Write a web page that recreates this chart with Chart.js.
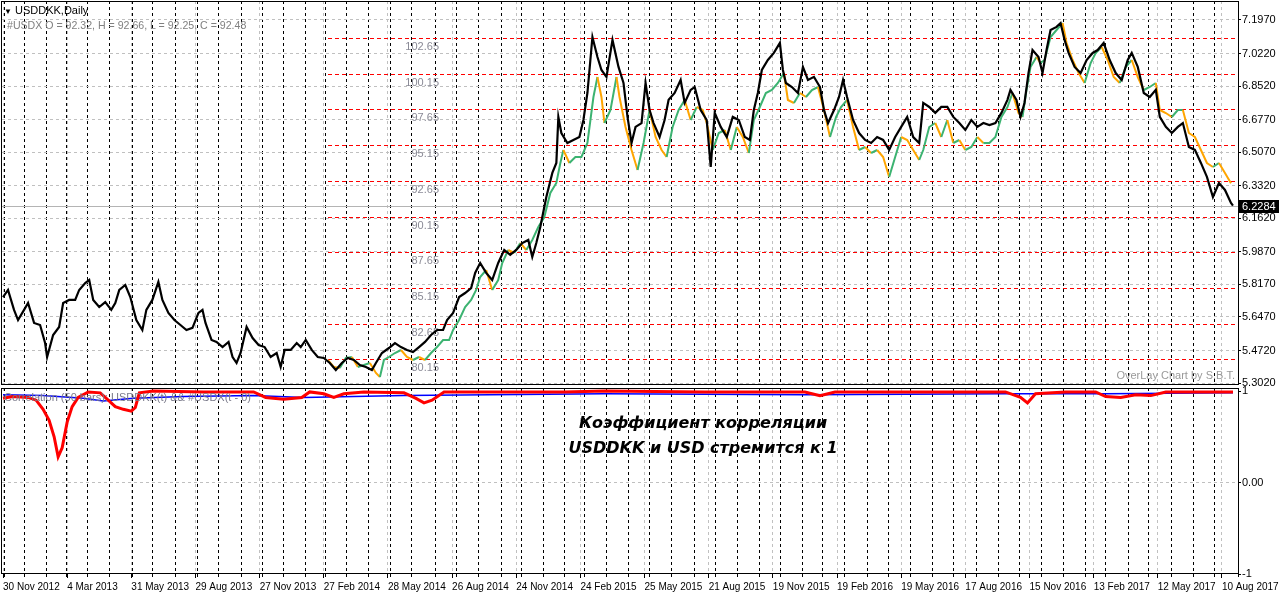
<!DOCTYPE html>
<html>
<head>
<meta charset="utf-8">
<script src="https://cdn.jsdelivr.net/npm/chart.js@4.4.0/dist/chart.umd.min.js"></script>
<style>
body{margin:0;background:#fff;width:1280px;height:600px;overflow:hidden;position:relative;font-family:"Liberation Sans",Arial,sans-serif}
canvas{position:absolute;left:0}
#main{top:0}
#sub{top:386px}
.t{position:absolute;font-size:11px;white-space:nowrap;line-height:13px}
.big{position:absolute;left:453px;width:500px;top:410px;text-align:center;font:italic bold 16px "DejaVu Sans",sans-serif;line-height:25px;color:#000}
</style>
</head>
<body>
<canvas id="main" width="1280" height="386"></canvas>
<canvas id="sub" width="1280" height="214"></canvas>
<div class="t" style="left:4px;top:4px;color:#000"><span style="font-size:8px">▼</span> USDDKK,Daily</div>
<div class="t" style="left:7px;top:19px;color:#808080;font-size:10.6px">#USDX O = 92.32, H = 92.66, L = 92.25, C = 92.48</div>
<div class="t" style="right:45px;top:369px;color:#9a9a9a">OverLay Chart by S.B.T.</div>
<div class="t" style="left:4px;top:391px;color:#7a7a8a">Correlation (50 bars): USDDKK(t) &amp;&amp; #USDX(t - 0)</div>
<div class="big">Коэффициент корреляции<br>USDDKK и USD стремится к 1</div>
<script>
// date axis
const dateLabels = ['30 Nov 2012','4 Mar 2013','31 May 2013','29 Aug 2013','27 Nov 2013','27 Feb 2014','28 May 2014','26 Aug 2014','24 Nov 2014','24 Feb 2015',
  '25 May 2015','21 Aug 2015','19 Nov 2015','19 Feb 2016','19 May 2016','17 Aug 2016','15 Nov 2016','13 Feb 2017','12 May 2017','10 Aug 2017'];
const dateBars = [0,64,128,192,256,320,384,448,512,576,640,704,768,832,896,960,1024,1088,1152,1216];

// price axis of USDDKK and overlay levels of #USDX
const priceTicks = [7.1970,7.0220,6.8520,6.6770,6.5070,6.3320,6.1620,5.9870,5.8170,5.6470,5.4720,5.3020];
const usdxLevels = [102.65,100.15,97.65,95.15,92.65,90.15,87.65,85.15,82.65,80.15];
const lastPrice = 6.2284;

// USDDKK daily close (bar number from 30 Nov 2012)
const dkkBar = [0,5,11,15,21,25,31,37,42,44,50,56,60,66,72,76,82,86,90,96,102,108,112,116,122,127,133,139,143,149,155,159,165,171,177,183,189,195,199,202,
  208,213,219,225,229,233,237,243,249,255,261,267,273,277,281,287,293,297,302,308,314,320,326,332,338,344,350,356,362,368,372,378,385,391,397,403,409,415,421,427,
  433,439,443,449,455,461,467,471,476,482,488,494,500,506,512,518,524,528,532,536,542,548,552,554,557,563,569,575,579,583,588,593,597,602,608,614,619,623,627,631,
  637,641,645,649,655,660,664,670,676,680,686,690,696,702,706,710,716,722,728,734,740,745,749,753,757,763,769,775,778,781,787,793,798,803,809,815,819,823,829,834,
  838,842,848,854,860,866,872,878,884,890,896,902,908,914,918,924,930,936,942,948,954,960,966,972,978,984,990,996,1002,1005,1011,1015,1019,1023,1027,1033,1037,1041,1045,1051,
  1055,1059,1063,1069,1075,1081,1087,1092,1098,1104,1110,1116,1122,1126,1132,1138,1144,1150,1154,1160,1166,1172,1177,1183,1189,1195,1201,1207,1213,1219,1225,1227];
const dkkClose = [5.751,5.788,5.684,5.631,5.684,5.720,5.616,5.605,5.511,5.438,5.553,5.595,5.720,5.736,5.736,5.788,5.824,5.840,5.736,5.699,5.725,5.684,5.720,5.788,5.814,5.751,5.631,5.579,5.684,5.736,5.830,5.736,5.668,5.631,5.605,5.579,5.590,5.668,5.684,5.616,
  5.527,5.517,5.490,5.517,5.438,5.407,5.459,5.595,5.537,5.501,5.490,5.438,5.459,5.386,5.475,5.475,5.511,5.490,5.527,5.475,5.438,5.433,5.407,5.370,5.407,5.433,5.423,5.396,5.386,5.370,5.407,5.459,5.485,5.511,5.490,5.475,5.464,5.490,5.517,5.553,
  5.579,5.579,5.631,5.668,5.751,5.772,5.798,5.877,5.929,5.877,5.840,5.929,5.997,5.971,5.997,6.033,6.049,5.960,6.033,6.117,6.273,6.399,6.451,6.691,6.607,6.555,6.571,6.586,6.675,6.816,7.108,7.004,6.936,6.900,7.093,6.952,6.868,6.691,6.555,6.639,
  6.659,6.868,6.727,6.659,6.586,6.675,6.780,6.816,6.884,6.764,6.832,6.847,6.727,6.675,6.430,6.712,6.639,6.586,6.691,6.675,6.586,6.571,6.727,6.816,6.936,6.988,7.025,7.077,6.936,6.868,6.847,6.816,6.952,6.884,6.900,6.847,6.727,6.659,6.727,6.795,
  6.884,6.795,6.675,6.607,6.571,6.555,6.586,6.571,6.519,6.586,6.639,6.691,6.586,6.555,6.764,6.743,6.712,6.743,6.743,6.691,6.659,6.623,6.675,6.639,6.659,6.649,6.659,6.712,6.780,6.832,6.780,6.691,6.764,6.920,7.040,7.004,6.920,7.040,7.145,7.161,
  7.181,7.093,7.025,6.952,6.920,6.988,7.025,7.040,7.077,6.988,6.920,6.884,6.988,7.025,6.952,6.816,6.795,6.832,6.691,6.639,6.607,6.639,6.659,6.534,6.519,6.451,6.378,6.273,6.346,6.310,6.242,6.2284];

// #USDX overlay close
const usdxBar = [324,330,336,342,348,354,360,366,372,376,380,385,391,397,403,409,415,421,427,433,439,445,449,455,461,467,472,476,482,488,494,498,504,510,516,522,528,534,540,546,
  552,556,559,565,571,577,583,589,593,597,600,606,612,615,621,627,633,639,645,651,657,662,668,674,680,686,692,698,702,708,714,720,726,732,738,744,749,755,761,767,
  773,779,783,789,795,801,807,813,819,825,831,836,842,848,854,860,866,872,878,884,890,896,902,908,914,918,924,930,936,942,948,954,960,966,972,978,984,990,996,1002,
  1007,1013,1017,1021,1025,1031,1035,1039,1045,1051,1057,1061,1067,1073,1079,1085,1090,1096,1102,1108,1114,1120,1126,1132,1138,1144,1150,1154,1160,1166,1172,1177,1183,1189,1195,1201,1207,1213,1219,1225];
const usdxClose = [80.11,79.62,79.55,80.25,80.32,79.62,79.76,79.90,79.20,78.92,80.11,80.32,80.60,80.81,80.32,80.11,80.32,80.11,80.60,81.02,81.51,81.51,82.21,82.91,83.82,84.31,85.01,85.92,86.41,85.01,85.71,86.90,87.81,87.60,88.30,87.81,88.51,89.42,90.12,91.80,
  92.50,93.90,94.81,93.90,94.32,94.32,95.30,98.52,99.92,98.52,96.70,97.61,99.92,98.52,96.42,94.81,93.41,95.30,97.61,95.72,94.81,94.32,96.42,97.61,98.31,96.91,97.82,97.61,96.70,94.81,96.00,96.21,94.81,96.42,95.72,94.60,96.91,97.82,98.80,99.01,
  99.50,100.20,98.31,98.10,98.80,98.52,99.01,99.22,97.61,95.72,97.12,97.82,98.31,96.42,94.81,95.02,94.60,94.81,94.32,92.92,94.32,95.72,95.51,94.81,94.11,94.81,96.42,96.70,95.72,96.91,95.30,95.51,94.81,95.02,95.72,95.30,95.30,95.72,97.12,97.82,
  98.80,97.40,97.12,99.01,100.62,101.32,100.90,101.11,102.72,103.21,103.70,102.30,101.11,100.20,99.50,100.90,101.60,102.02,101.11,99.92,99.50,100.62,101.11,99.92,99.01,99.22,99.50,97.61,97.40,97.12,97.61,97.61,96.00,95.72,94.81,93.90,93.62,93.90,93.20,92.48];

// correlation (50 bars) and its slow line
const corrBar = [0,10,25,33,40,46,51,55,59,64,69,75,85,97,105,112,120,128,132,136,150,200,250,262,280,298,306,320,330,340,360,400,412,420,428,440,500,560,600,700,800,815,830,900,1000,1015,1022,1030,1060,1090,1100,1115,1130,1145,1160,1227];
const corrVal = [0.92,0.94,0.93,0.90,0.80,0.68,0.50,0.28,0.38,0.66,0.83,0.93,0.99,0.98,0.90,0.83,0.80,0.78,0.82,0.98,1.00,0.99,0.99,0.93,0.91,0.93,0.99,0.97,0.93,0.97,0.99,0.98,0.92,0.87,0.90,0.99,0.99,0.99,1.00,0.99,0.99,0.95,0.99,0.99,0.99,0.93,0.87,0.97,0.99,0.99,0.94,0.93,0.96,0.95,0.99,0.99];
const slowBar = [0,40,80,100,130,180,250,300,400,600,800,1000,1100,1227];
const slowVal = [0.96,0.95,0.92,0.89,0.92,0.94,0.95,0.93,0.95,0.97,0.96,0.97,0.97,0.98];

const monthBars = (function () {
  const out = [];
  let d = Date.UTC(2012, 10, 30), prev = 10, i = 0;
  while (i < 1240) {
    d += 86400000;
    const dt = new Date(d), wd = dt.getUTCDay(), m = dt.getUTCMonth(), day = dt.getUTCDate();
    if (wd === 0 || wd === 6) continue;
    if ((m === 11 && day === 25) || (m === 0 && day === 1)) continue;
    i++;
    if (m !== prev) { out.push(i); prev = m; }
  }
  return out;
})();

const pts = (xs, ys) => xs.map((x, i) => ({x: x, y: ys[i]}));
const XMIN = -1, XMAX = 1232;
const font = {family: '"Liberation Sans", Arial, sans-serif', size: 11};
const dateFont = {family: '"Liberation Sans", Arial, sans-serif', size: 10};
const noPad = s => { s.paddingLeft = 0; s.paddingRight = 0; s.paddingTop = 0; s.paddingBottom = 0; };

function xAxes(showLabels) {
  return {
    x: {
      type: 'linear', min: XMIN, max: XMAX, weight: 1,
      afterBuildTicks: s => { s.ticks = dateBars.map(v => ({value: v})); },
      afterFit: s => { s.height = showLabels ? 26 : 0; noPad(s); },
      grid: {color: '#c0c0c0', drawTicks: showLabels, tickLength: 4, tickColor: '#000', tickBorderDash: []},
      border: {display: false, dash: [3, 3]},
      ticks: {display: showLabels, autoSkip: false, maxRotation: 0, align: 'start', padding: 3, color: '#000', font: dateFont,
        callback: v => dateLabels[dateBars.indexOf(v)]}
    },
    xm: {
      type: 'linear', min: XMIN, max: XMAX, weight: 0,
      afterBuildTicks: s => { s.ticks = monthBars.map(v => ({value: v})); },
      afterFit: s => { s.height = 0; noPad(s); },
      grid: {color: '#000', drawTicks: showLabels, tickLength: 3, tickColor: '#000', tickBorderDash: []},
      border: {display: false, dash: [3, 3]},
      ticks: {display: false}
    }
  };
}

const framePlugin = {
  id: 'frame',
  afterDraw(c) {
    const a = c.chartArea, ctx = c.ctx;
    ctx.save();
    ctx.strokeStyle = '#000';
    ctx.lineWidth = 1;
    ctx.strokeRect(Math.round(a.left) - 0.5, Math.round(a.top) + 0.5, Math.round(a.right - a.left) + 1, Math.round(a.bottom - a.top) - 1);
    ctx.restore();
  }
};

const overlayPlugin = {
  id: 'overlay',
  beforeDatasetsDraw(c) {
    const ctx = c.ctx, a = c.chartArea, x = c.scales.x, yu = c.scales.yu, y = c.scales.y;
    const x0 = Math.round(x.getPixelForValue(usdxBar[0]));
    ctx.save();
    ctx.setLineDash([4, 3]);
    ctx.strokeStyle = '#ff0000';
    ctx.lineWidth = 1;
    ctx.font = '11px "Liberation Sans", Arial, sans-serif';
    ctx.textAlign = 'right';
    ctx.textBaseline = 'middle';
    usdxLevels.forEach(v => {
      const py = Math.round(yu.getPixelForValue(v)) + 0.5;
      ctx.beginPath(); ctx.moveTo(x0, py); ctx.lineTo(a.right, py); ctx.stroke();
      ctx.fillStyle = '#8a8a96';
      ctx.fillText(v.toFixed(2), x0 + 111, py + 8);
    });
    ctx.setLineDash([]);
    ctx.strokeStyle = '#b4b4b4';
    const ly = Math.round(y.getPixelForValue(lastPrice)) + 0.5;
    ctx.beginPath(); ctx.moveTo(a.left, ly); ctx.lineTo(a.right, ly); ctx.stroke();
    ctx.restore();
  },
  afterDraw(c) {
    const ctx = c.ctx, a = c.chartArea, y = c.scales.y;
    const ly = Math.round(y.getPixelForValue(lastPrice));
    ctx.save();
    ctx.fillStyle = '#000';
    ctx.fillRect(a.right + 1, ly - 6, 40, 13);
    ctx.fillStyle = '#fff';
    ctx.font = '11px "Liberation Sans", Arial, sans-serif';
    ctx.textBaseline = 'middle';
    ctx.fillText(lastPrice.toFixed(4), a.right + 4, ly + 1);
    ctx.restore();
  }
};

new Chart(document.getElementById('main'), {
  type: 'line',
  data: {
    datasets: [
      {label: 'USDDKK', data: pts(dkkBar, dkkClose), xAxisID: 'x', yAxisID: 'y', borderColor: '#000', borderWidth: 2.2, pointRadius: 0, order: 0},
      {label: '#USDX', data: pts(usdxBar, usdxClose), xAxisID: 'x', yAxisID: 'yu', borderColor: '#ffa500', borderWidth: 2, pointRadius: 0, order: 1,
        segment: {borderColor: s => s.p1.parsed.y >= s.p0.parsed.y ? '#3cb371' : '#ffa500'}}
    ]
  },
  options: {
    responsive: false, animation: false, devicePixelRatio: 1,
    layout: {padding: {left: 2, top: 1, bottom: 1, right: 0}},
    plugins: {legend: {display: false}, tooltip: {enabled: false}},
    scales: Object.assign(xAxes(false), {
      y: {
        position: 'right', min: 5.292, max: 7.296,
        afterBuildTicks: s => { s.ticks = priceTicks.map(v => ({value: v})); },
        afterFit: s => { s.width = 42; noPad(s); },
        grid: {color: '#c0c0c0', tickLength: 3, tickColor: '#000', tickBorderDash: []},
        border: {display: false, dash: [3, 3]},
        ticks: {color: '#000', font: font, padding: 1, callback: v => v.toFixed(4)}
      },
      yu: {display: false, min: 78.36, max: 105.24}
    })
  },
  plugins: [overlayPlugin, framePlugin]
});

new Chart(document.getElementById('sub'), {
  type: 'line',
  data: {
    datasets: [
      {label: 'Correlation', data: pts(corrBar, corrVal), borderColor: '#ff0000', borderWidth: 3, pointRadius: 0, order: 0},
      {label: 'Slow', data: pts(slowBar, slowVal), borderColor: '#0000ff', borderWidth: 1.5, pointRadius: 0, order: 1}
    ]
  },
  options: {
    responsive: false, animation: false, devicePixelRatio: 1,
    layout: {padding: {left: 2, top: 2, bottom: 0, right: 0}},
    plugins: {legend: {display: false}, tooltip: {enabled: false}},
    scales: Object.assign(xAxes(true), {
      y: {
        position: 'right', min: -1.0, max: 1.033,
        afterBuildTicks: s => { s.ticks = [1, 0, -1].map(v => ({value: v})); },
        afterFit: s => { s.width = 42; noPad(s); },
        grid: {color: ctx => ctx.tick && ctx.tick.value === 0 ? '#c0c0c0' : 'rgba(0,0,0,0)', tickLength: 3, tickColor: '#000', tickBorderDash: []},
        border: {display: false, dash: [3, 3]},
        ticks: {color: '#000', font: font, padding: 1, callback: v => v === 0 ? '0.00' : String(v)}
      }
    })
  },
  plugins: [framePlugin]
});
</script>
</body>
</html>
